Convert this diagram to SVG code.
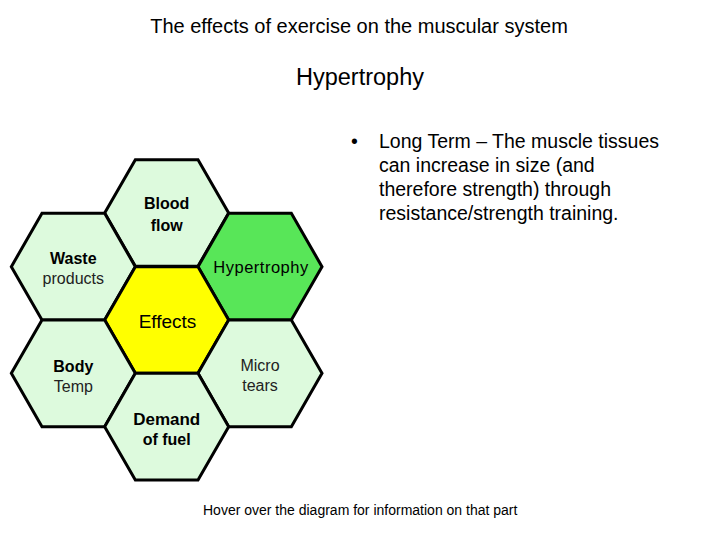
<svg xmlns="http://www.w3.org/2000/svg" xmlns:xlink="http://www.w3.org/1999/xlink" width="720" height="540" viewBox="0 0 720 540">
<defs>
<style>
.hex{stroke:#000;stroke-width:3;stroke-linejoin:miter}
.light{fill:#ddfadd}
.green{fill:#58e658}
.yellow{fill:#ffff00}
text{font-family:"Liberation Sans",Arial,sans-serif;fill:#000}
.lbl{font-size:16px;text-anchor:middle}
.b{font-weight:bold}
.r{fill:#222}
</style>
<polygon id="hexshape" points="-62,0 -31.33,-53.33 31.33,-53.33 62,0 31.33,53.33 -31.33,53.33"/>
</defs>
<rect width="720" height="540" fill="#fff"/>
<text x="359" y="33" font-size="20" text-anchor="middle">The effects of exercise on the muscular system</text>
<text x="360" y="85" font-size="23.5" text-anchor="middle">Hypertrophy</text>
<g id="bullet" font-size="19.5">
<text x="351" y="148">•</text>
<text x="379" y="148">Long Term – The muscle tissues</text>
<text x="379" y="172">can increase in size (and</text>
<text x="379" y="196">therefore strength) through</text>
<text x="379" y="220">resistance/strength training.</text>
</g>
<g id="connectors"></g>
<g id="blood">
<use xlink:href="#hexshape" href="#hexshape" class="hex light" transform="translate(166.67,213)"/>
<text class="lbl b" x="166.7" y="209">Blood</text>
<text class="lbl b" x="166.7" y="231">flow</text>
</g>
<g id="waste">
<use xlink:href="#hexshape" href="#hexshape" class="hex light" transform="translate(73.33,266.67)"/>
<text class="lbl b" x="73.3" y="264">Waste</text>
<text class="lbl r" x="73.3" y="284">products</text>
</g>
<g id="hypertrophy">
<use xlink:href="#hexshape" href="#hexshape" class="hex green" transform="translate(260,266.67)"/>
<text class="lbl" x="261" y="273" style="font-size:16.5px" letter-spacing="0.5">Hypertrophy</text>
</g>
<g id="effects">
<use xlink:href="#hexshape" href="#hexshape" class="hex yellow" transform="translate(166.67,320)"/>
<text class="lbl" x="167.5" y="328" style="font-size:19px">Effects</text>
</g>
<g id="body">
<use xlink:href="#hexshape" href="#hexshape" class="hex light" transform="translate(73.33,373.33)"/>
<text class="lbl b" x="73.3" y="372">Body</text>
<text class="lbl r" x="73.3" y="392">Temp</text>
</g>
<g id="micro">
<use xlink:href="#hexshape" href="#hexshape" class="hex light" transform="translate(260,373.33)"/>
<text class="lbl r" x="260" y="371">Micro</text>
<text class="lbl r" x="260" y="391">tears</text>
</g>
<g id="demand">
<use xlink:href="#hexshape" href="#hexshape" class="hex light" transform="translate(166.67,426.67)"/>
<text class="lbl b" x="166.7" y="425" style="font-size:17px">Demand</text>
<text class="lbl b" x="166.7" y="445">of fuel</text>
</g>
<text x="203" y="515" font-size="14">Hover over the diagram for information on that part</text>
</svg>
